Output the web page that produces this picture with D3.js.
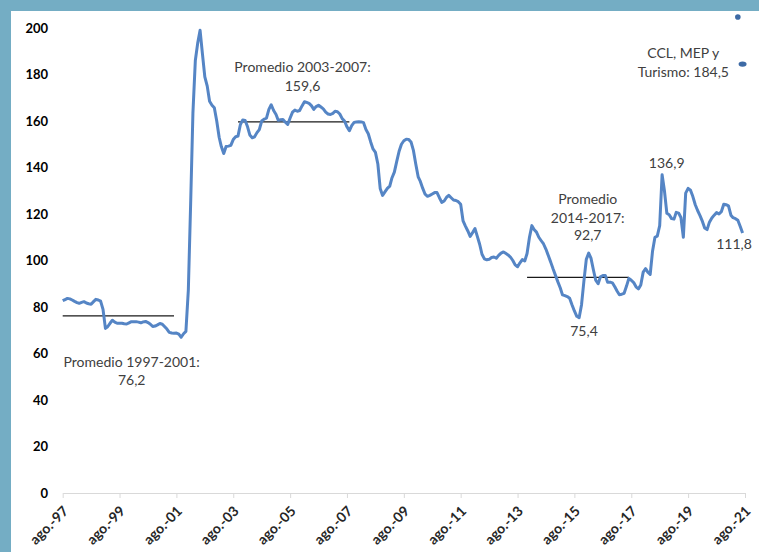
<!DOCTYPE html>
<html>
<head>
<meta charset="utf-8">
<script src="https://cdn.jsdelivr.net/npm/d3@7/dist/d3.min.js"></script>
<style>
  html, body { margin: 0; padding: 0; background: #74adc4; }
  svg { display: block; }
  text { font-family: Lato, "Noto Sans", sans-serif; }
</style>
</head>
<body>
<svg id="chart" width="759" height="552"></svg>
<script>
// Tipo de cambio real multilateral, serie mensual desde agosto de 1997
const startMonth = new Date(1997, 7, 1);
const itcrm = [
  82.7, 83.2, 83.7, 83.5, 83.0, 82.4, 81.9, 81.6, 82.0, 82.3, 81.7, 81.4,
  81.2, 82.3, 83.3, 83.0, 82.5, 79.0, 70.8, 71.5, 73.0, 74.3, 73.5, 73.0,
  73.0, 73.0, 72.8, 72.7, 73.2, 73.7, 73.7, 73.7, 73.5, 73.2, 73.6, 73.8,
  73.3, 72.6, 71.6, 71.8, 72.3, 72.9, 72.6, 71.6, 70.5, 69.1, 68.8, 68.7,
  68.8, 68.3, 67.0, 68.5, 69.5, 87.2, 126.0, 163.4, 186.0, 193.4, 199.0, 189.0,
  179.0, 175.0, 168.5, 166.8, 165.7, 160.0, 153.0, 149.0, 146.0, 149.0, 149.2, 149.5,
  152.0, 153.2, 153.5, 158.5, 160.4, 160.2, 157.5, 154.0, 152.8, 153.2, 155.0, 156.3,
  160.0, 160.8, 161.2, 165.0, 167.0, 164.5, 162.8, 160.3, 160.5, 160.6, 159.5, 158.5,
  161.3, 163.8, 164.7, 164.2, 164.5, 166.5, 168.3, 168.0, 167.6, 166.6, 165.0, 166.2,
  166.8, 166.0, 165.2, 163.8, 163.0, 162.8, 163.3, 164.2, 164.0, 163.0, 161.0, 160.0,
  157.5, 155.8, 158.0, 159.4, 159.6, 159.7, 159.6, 159.3, 156.3, 154.5, 151.0, 148.0,
  146.5, 141.5, 131.0, 128.0, 129.5, 131.0, 132.0, 135.5, 138.0, 142.5, 147.0, 150.0,
  151.5, 152.2, 152.1, 151.0, 147.5, 141.5, 136.0, 134.0, 131.0, 128.5, 127.6, 128.0,
  128.6, 129.2, 129.2, 127.0, 125.0, 125.6, 127.2, 128.0, 127.0, 126.0, 125.8, 125.3,
  124.2, 117.0, 114.8, 112.7, 110.4, 112.0, 113.7, 110.5, 107.0, 102.7, 100.7, 100.3,
  100.5, 101.3, 101.5, 101.0, 102.2, 103.2, 103.7, 103.1, 102.4, 101.5, 100.0, 98.1,
  97.3, 99.0, 100.4, 99.8, 103.0, 110.0, 115.0, 113.3, 112.2, 110.0, 108.5, 107.1,
  104.8, 102.0, 99.3, 96.3, 93.6, 90.8, 88.2, 85.2, 84.9, 84.5, 83.8, 81.0,
  78.3, 76.0, 75.4, 81.0, 91.0, 100.5, 103.2, 101.0, 96.0, 91.5, 90.0, 93.0,
  93.5, 93.6, 90.6, 90.7, 90.4, 88.7, 86.8, 85.3, 85.5, 85.9, 89.0, 92.3,
  91.5, 90.5, 88.7, 87.8, 89.5, 95.0, 96.5, 95.0, 94.0, 104.0, 110.0, 110.5,
  115.0, 136.9, 130.0, 120.3, 119.7, 118.0, 117.8, 120.7, 120.4, 118.5, 110.0, 129.0,
  131.0, 130.2, 127.5, 124.0, 121.5, 119.3, 116.8, 114.0, 113.3, 116.5, 118.3, 119.5,
  120.6, 120.0, 121.0, 124.2, 124.0, 123.5, 119.5, 118.4, 118.0, 117.3, 114.6, 111.8
];

// Promedios por período: [mes inicial, mes final, valor]
const promedios = [
  { desde: [1997, 7], hasta: [2001, 6], valor: 76.2 },
  { desde: [2003, 9], hasta: [2007, 8], valor: 159.6 },
  { desde: [2013, 11], hasta: [2017, 6], valor: 92.7 }
];

// Puntos de los tipos de cambio alternativos
const alternativos = [
  { fecha: [2021, 4], valor: 204.7, forma: "circulo" },
  { fecha: [2021, 6], valor: 184.5, forma: "elipse" }
];

const yTicks = [0, 20, 40, 60, 80, 100, 120, 140, 160, 180, 200];
const xTickYears = [1997, 1999, 2001, 2003, 2005, 2007, 2009, 2011, 2013, 2015, 2017, 2019, 2021];

const serie = itcrm.map((v, i) => ({ fecha: d3.timeMonth.offset(startMonth, i), valor: v }));

const svg = d3.select("#chart");
svg.append("rect").attr("x", 11).attr("y", 11).attr("width", 748).attr("height", 541).attr("fill", "#ffffff");

const x = d3.scaleTime()
  .domain([new Date(1997, 7, 1), new Date(2021, 7, 1)])
  .range([62.7, 745]);
const y = d3.scaleLinear().domain([0, 200]).range([493, 28]);

// Eje Y: sólo etiquetas
const yAxis = svg.append("g")
  .attr("transform", "translate(48,0)")
  .call(d3.axisLeft(y).tickValues(yTicks).tickSize(0).tickPadding(0));
yAxis.select(".domain").remove();
yAxis.selectAll("text")
  .attr("font-size", 13).attr("font-weight", "bold").attr("fill", "#000")
  .style("font-family", "Lato, sans-serif");

// Eje X
const xAxis = svg.append("g")
  .attr("transform", "translate(0,493)")
  .call(d3.axisBottom(x)
    .tickValues(xTickYears.map(yr => new Date(yr, 7, 1)))
    .tickSize(5)
    .tickSizeOuter(0)
    .tickFormat(d => "ago.-" + String(d.getFullYear()).slice(2)));
xAxis.select(".domain").attr("stroke", "#d9d9d9").attr("stroke-width", 1);
xAxis.selectAll(".tick line").attr("stroke", "#d9d9d9");
xAxis.selectAll(".tick text")
  .attr("font-size", 14).attr("font-weight", "bold").attr("fill", "#262626")
  .style("font-family", "Lato, sans-serif")
  .attr("text-anchor", "end")
  .attr("dy", null).attr("y", null)
  .attr("transform", "translate(6,19) rotate(-45)");

// Líneas de promedio
svg.append("g").selectAll("line")
  .data(promedios).join("line")
  .attr("x1", d => x(new Date(d.desde[0], d.desde[1], 1)))
  .attr("x2", d => x(new Date(d.hasta[0], d.hasta[1], 1)))
  .attr("y1", d => y(d.valor)).attr("y2", d => y(d.valor))
  .attr("stroke", "#1a1a1a").attr("stroke-width", 1.2);

// Serie principal
const line = d3.line().x(d => x(d.fecha)).y(d => y(d.valor));
svg.append("path").datum(serie)
  .attr("d", line)
  .attr("fill", "none")
  .attr("stroke", "#5585c5")
  .attr("stroke-width", 3)
  .attr("stroke-linejoin", "round");

// Marcadores alternativos
alternativos.forEach(p => {
  const cx = x(new Date(p.fecha[0], p.fecha[1], 1));
  const cy = y(p.valor);
  if (p.forma === "elipse") {
    svg.append("ellipse").attr("cx", cx).attr("cy", cy).attr("rx", 4).attr("ry", 2.6).attr("fill", "#3d6aa5");
  } else {
    svg.append("circle").attr("cx", cx).attr("cy", cy).attr("r", 2.8).attr("fill", "#3d6aa5");
  }
});

// Anotaciones
const anot = [
  { t: "Promedio 2003-2007:", x: 302.5, y: 67 },
  { t: "159,6", x: 302.5, y: 86 },
  { t: "Promedio 1997-2001:", x: 131.7, y: 362 },
  { t: "76,2", x: 131.7, y: 380 },
  { t: "Promedio", x: 587.7, y: 199 },
  { t: "2014-2017:", x: 587.7, y: 218 },
  { t: "92,7", x: 587.7, y: 235 },
  { t: "136,9", x: 666.7, y: 163.5 },
  { t: "111,8", x: 734, y: 244.5 },
  { t: "75,4", x: 584, y: 331 },
  { t: "CCL, MEP y", x: 683.3, y: 53.5 },
  { t: "Turismo: 184,5", x: 683.3, y: 72 }
];
svg.append("g").selectAll("text")
  .data(anot).join("text")
  .attr("x", d => d.x).attr("y", d => d.y)
  .attr("dy", "0.35em")
  .attr("text-anchor", "middle")
  .attr("font-size", 14)
  .attr("fill", "#404040")
  .text(d => d.t);
</script>
</body>
</html>
